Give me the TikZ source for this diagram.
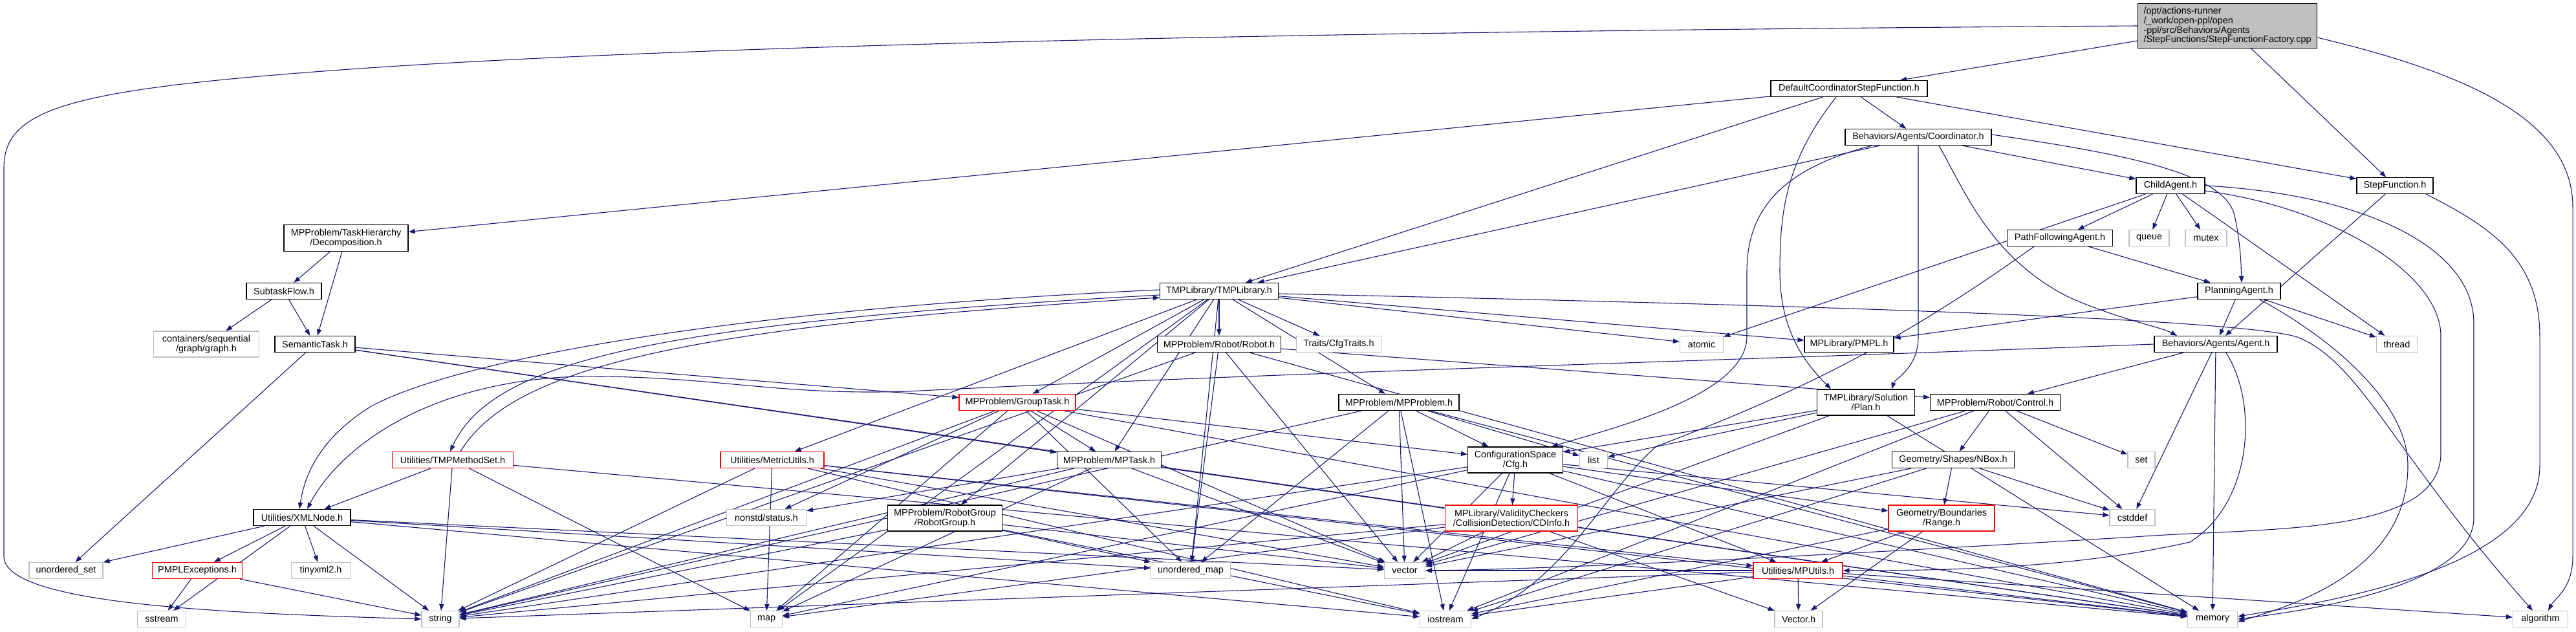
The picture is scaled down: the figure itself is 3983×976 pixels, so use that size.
\documentclass[tikz,border=0pt]{standalone}
\usepackage{fontspec}
\setmainfont{Liberation Sans}
\usetikzlibrary{arrows.meta}
\definecolor{edgec}{HTML}{191970}
\definecolor{extc}{HTML}{BFBFBF}
\definecolor{redc}{HTML}{FF0000}
\definecolor{mainfill}{HTML}{BFBFBF}
\pgfdeclarelayer{bg}
\pgfsetlayers{bg,main}
\begin{document}
\begin{tikzpicture}[x=0.5pt,y=-0.5pt,
  every node/.style={font=\fontsize{7.2}{7.4}\selectfont, inner sep=0pt, align=center},
  nb/.style={draw=black, fill=white, line width=0.6pt, minimum height=12.5pt},
  ne/.style={draw=extc, fill=white, line width=0.6pt, minimum height=12.5pt},
  nr/.style={draw=redc, fill=white, line width=0.6pt, minimum height=12.5pt},
  nm/.style={draw=black, fill=mainfill, line width=0.6pt},
  edge/.style={draw=edgec, line width=0.55pt, -{Triangle[length=5pt,width=3.6pt]}}
]
\useasboundingbox (0,0) rectangle (3983,976);

% row 0
\node[nm, minimum width=138.5pt, minimum height=34.5pt, align=left] (main) at (3444,40) {/opt/actions-runner\\/\_work/open-ppl/open\\-ppl/src/Behaviors/Agents\\/StepFunctions/StepFunctionFactory.cpp};
% row 1-3
\node[nb, minimum width=121pt] (dcsf) at (2859,137) {DefaultCoordinatorStepFunction.h};
\node[nb, minimum width=113pt] (coord) at (2966,212) {Behaviors/Agents/Coordinator.h};
\node[nb, minimum width=59pt] (stepf) at (3703,287) {StepFunction.h};
\node[nb, minimum width=53pt] (child) at (3356,287) {ChildAgent.h};
% row 4
\node[nb, minimum width=96pt, minimum height=20.5pt] (decomp) at (535,368) {MPProblem/TaskHierarchy\\/Decomposition.h};
\node[nb, minimum width=81.5pt] (pfa) at (3185,368) {PathFollowingAgent.h};
\node[ne, minimum width=31pt] (queue) at (3323,368) {queue};
\node[ne, minimum width=32pt] (mutex) at (3411,368) {mutex};
% row 5
\node[nb, minimum width=91.5pt] (tmpl) at (1885,450) {TMPLibrary/TMPLibrary.h};
\node[nb, minimum width=58pt] (subtask) at (439,450) {SubtaskFlow.h};
\node[nb, minimum width=64pt] (planning) at (3462,450) {PlanningAgent.h};
% row 6
\node[ne, minimum width=81.5pt, minimum height=20pt] (graph) at (319,532) {containers/sequential\\/graph/graph.h};
\node[nb, minimum width=62pt] (semantic) at (487,532) {SemanticTask.h};
\node[nb, minimum width=95.5pt] (robot) at (1885,532) {MPProblem/Robot/Robot.h};
\node[ne, minimum width=65.5pt] (cfgtraits) at (2070,532) {Traits/CfgTraits.h};
\node[ne, minimum width=33.5pt] (atomic) at (2631,532) {atomic};
\node[nb, minimum width=69pt] (pmpl) at (2859,532) {MPLibrary/PMPL.h};
\node[nb, minimum width=95pt] (agent) at (3426,532) {Behaviors/Agents/Agent.h};
\node[ne, minimum width=31.5pt] (thread) at (3706,532) {thread};
% row 7
\node[nr, minimum width=90pt] (grouptask) at (1573,622) {MPProblem/GroupTask.h};
\node[nb, minimum width=93pt] (mpproblem) at (2163,622) {MPProblem/MPProblem.h};
\node[nb, minimum width=75.5pt, minimum height=20pt] (plan) at (2885,622) {TMPLibrary/Solution\\/Plan.h};
\node[nb, minimum width=100.5pt] (control) at (3085,622) {MPProblem/Robot/Control.h};
% row 8
\node[nr, minimum width=93.5pt] (tmpms) at (700,711) {Utilities/TMPMethodSet.h};
\node[nr, minimum width=80pt] (metric) at (1194,711) {Utilities/MetricUtils.h};
\node[nb, minimum width=80.5pt] (mptask) at (1715,711) {MPProblem/MPTask.h};
\node[nb, minimum width=73.5pt, minimum height=20pt] (cfg) at (2343,711) {ConfigurationSpace\\/Cfg.h};
\node[ne, minimum width=21.5pt] (list) at (2464,711) {list};
\node[nb, minimum width=94.5pt] (nbox) at (3020,711) {Geometry/Shapes/NBox.h};
\node[ne, minimum width=21pt] (set) at (3311,711) {set};
% row 9
\node[nb, minimum width=75pt] (xml) at (467,800) {Utilities/XMLNode.h};
\node[ne, minimum width=61.5pt] (status) at (1185,800) {nonstd/status.h};
\node[nb, minimum width=88.5pt, minimum height=20pt] (robotgroup) at (1461,801) {MPProblem/RobotGroup\\/RobotGroup.h};
\node[nr, minimum width=102.5pt, minimum height=20pt] (cdinfo) at (2337,801) {MPLibrary/ValidityCheckers\\/CollisionDetection/CDInfo.h};
\node[nr, minimum width=82pt, minimum height=20pt] (range) at (3002,801) {Geometry/Boundaries\\/Range.h};
\node[ne, minimum width=35pt] (cstddef) at (3297,800) {cstddef};
% row 10
\node[ne, minimum width=57pt] (uset) at (102,882) {unordered\_set};
\node[nr, minimum width=69.5pt] (pmplex) at (305,882) {PMPLExceptions.h};
\node[ne, minimum width=45.5pt] (tinyxml) at (496,882) {tinyxml2.h};
\node[ne, minimum width=61.5pt] (umap) at (1841,882) {unordered\_map};
\node[ne, minimum width=31.5pt] (vector) at (2172,882) {vector};
\node[nr, minimum width=69pt] (mputils) at (2780,882) {Utilities/MPUtils.h};
% row 11
\node[ne, minimum width=37.5pt] (sstream) at (250,957) {sstream};
\node[ne, minimum width=29pt] (string) at (681,957) {string};
\node[ne, minimum width=24.5pt] (map) at (1185,957) {map};
\node[ne, minimum width=39.5pt] (iostream) at (2235,957) {iostream};
\node[ne, minimum width=37pt] (vectorh) at (2781,957) {Vector.h};
\node[ne, minimum width=38.5pt] (memory) at (3421,957) {memory};
\node[ne, minimum width=42.5pt] (algorithm) at (3928,957) {algorithm};

\begin{pgfonlayer}{bg}
% routed connectors
\draw[edge] (main.west) .. controls (2000,48) and (1000,72) .. (500,110) .. controls (100,140) and (6,170) .. (6,260) -- (6,860) .. controls (6,935) and (350,948) .. (string.west);
\draw[edge] ([yshift=-9pt]main.east) .. controls (3800,110) and (3978,180) .. (3978,320) -- (3978,860) .. controls (3978,910) and (3950,925) .. ([xshift=6pt]algorithm.north);
\draw[edge] ([xshift=24pt]stepf.south) .. controls (3850,350) and (3927,400) .. (3927,520) -- (3927,720) .. controls (3927,880) and (3600,930) .. ([yshift=2pt]memory.east);
\draw[edge] (child.east) .. controls (3650,300) and (3825,380) .. (3825,500) -- (3825,800) .. controls (3825,900) and (3600,940) .. (memory.east);
\draw[edge] ([yshift=-4pt]child.east) .. controls (3600,320) and (3774,420) .. (3774,520) -- (3774,700) .. controls (3774,830) and (3500,815) .. (3300,830) .. controls (2800,860) and (2400,880) .. (vector.east);
\draw[edge] ([xshift=16pt]planning.south) .. controls (3600,520) and (3723,620) .. (3723,720) .. controls (3723,880) and (3550,935) .. ([yshift=-2pt]memory.east);
\draw[edge] ([xshift=-10pt]dcsf.south) .. controls (2760,250) and (2752,330) .. (2752,420) .. controls (2752,520) and (2800,570) .. ([xshift=-27pt]plan.north);
\draw[edge] (coord.south) -- (2966,520) .. controls (2966,570) and (2930,585) .. ([xshift=20pt]plan.north);
\draw[edge] ([xshift=-36pt]coord.south) .. controls (2760,260) and (2701,320) .. (2701,420) -- (2701,520) .. controls (2701,610) and (2500,660) .. ([xshift=28pt]cfg.north);
\draw[edge] ([yshift=2pt]coord.east) .. controls (3300,240) and (3440,270) .. (3455,333) .. controls (3465,380) and (3465,410) .. ([xshift=2pt]planning.north);
\draw[edge] ([xshift=16pt]coord.south) .. controls (3040,300) and (3080,400) .. (3200,460) .. controls (3280,495) and (3340,505) .. ([xshift=-30pt]agent.north);
\draw[edge] ([yshift=-2pt]tmpl.east) .. controls (2700,470) and (3450,490) .. (3552,521) .. controls (3650,560) and (3700,700) .. ([xshift=-6pt]algorithm.north);
\draw[edge] (agent.west) .. controls (2600,560) and (2000,575) .. (1403,605) .. controls (1200,612) and (1100,580) .. (893,582) .. controls (650,590) and (520,700) .. ([xshift=4pt]xml.north);
\draw[edge] ([yshift=1pt]tmpl.west) .. controls (1100,480) and (700,560) .. (574,628) .. controls (490,680) and (470,740) .. ([xshift=-2pt]xml.north);
\draw[edge] ([yshift=-3pt]tmpl.west) .. controls (1000,500) and (760,560) .. ([xshift=-2pt]tmpms.north);
\draw[edge] ([xshift=6pt]tmpms.north) .. controls (790,570) and (1050,505) .. ([yshift=-5pt]tmpl.west);
\draw[edge] ([xshift=-20pt]pfa.south) .. controls (2950,520) and (2800,600) .. (2561,690) .. controls (2480,760) and (2420,900) .. (iostream.east);
\draw[edge] ([xshift=8pt]agent.south) .. controls (3494,628) and (3480,780) .. (3386,838) .. controls (3200,880) and (3000,882) .. (mputils.east);

% straight connectors
\foreach \s/\t in {
  main/dcsf, main/stepf,
  dcsf/decomp, dcsf/tmpl, dcsf/coord, dcsf/stepf,
  coord/tmpl, coord/child,
  child/atomic, child/pfa, child/queue, child/mutex, child/thread,
  stepf/agent,
  pfa/planning,
  planning/agent, planning/pmpl, planning/thread,
  decomp/subtask, decomp/semantic,
  subtask/graph, subtask/semantic,
  semantic/grouptask, semantic/mptask, semantic/uset, semantic/memory,
  tmpl/robot, tmpl/cfgtraits, tmpl/grouptask, tmpl/mptask, tmpl/metric, tmpl/robotgroup,
  tmpl/atomic, tmpl/pmpl, tmpl/mpproblem, tmpl/umap, tmpl/map,
  tmpms/xml, tmpms/string, tmpms/map, tmpms/memory,
  robot/control, robot/string, robot/umap, robot/vector, robot/memory,
  agent/control, agent/cstddef, agent/memory,
  grouptask/mptask, grouptask/status, grouptask/string, grouptask/umap, grouptask/map,
  grouptask/cfg, grouptask/vector, grouptask/memory,
  mpproblem/cfg, mpproblem/list, mpproblem/vector, mpproblem/iostream, mpproblem/memory,
  mpproblem/string, mpproblem/umap,
  plan/cfg, plan/list, plan/vector, plan/memory,
  control/nbox, control/set, control/cstddef, control/vector, control/iostream,
  metric/string, metric/map, metric/iostream, metric/memory, metric/mputils, metric/vector,
  mptask/status, mptask/map, mptask/vector, mptask/memory, mptask/string,
  cfg/cdinfo, cfg/range, cfg/mputils, cfg/cstddef, cfg/iostream, cfg/map, cfg/memory,
  cfg/string, cfg/vector,
  nbox/range, nbox/cstddef, nbox/iostream, nbox/vector,
  xml/uset, xml/pmplex, xml/tinyxml, xml/sstream, xml/string, xml/umap, xml/vector, xml/iostream,
  robotgroup/string, robotgroup/umap, robotgroup/vector, robotgroup/iostream,
  cdinfo/vector, cdinfo/vectorh, cdinfo/string, cdinfo/map,
  range/mputils, range/vectorh, range/iostream,
  mputils/vectorh, mputils/iostream, mputils/memory, mputils/algorithm, mputils/string, mputils/vector,
  pmplex/sstream, pmplex/string}
  \draw[edge] (\s) -- (\t);
\end{pgfonlayer}
\end{tikzpicture}
\end{document}
